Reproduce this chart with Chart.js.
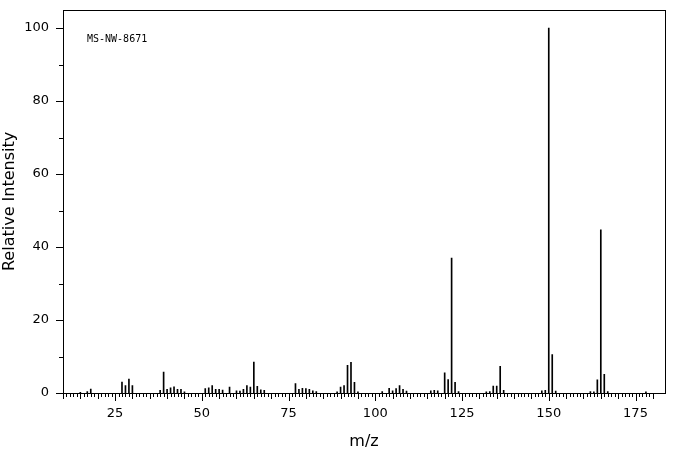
<!DOCTYPE html>
<html><head><meta charset="utf-8">
<script src="https://cdn.jsdelivr.net/npm/chart.js@4"></script>
<style>html,body{margin:0;background:#fff;overflow:hidden}#w{width:676px;height:467px;margin-top:-12px}</style>
</head><body><div id="w"><canvas id="c"></canvas></div>
<script>
const mz = [15,17,18,27,28,29,30,38,39,40,41,42,43,44,45,51,52,53,54,55,56,58,60,61,62,63,64,65,66,67,68,77,78,79,80,81,82,83,89,90,91,92,93,94,95,102,104,105,106,107,108,109,116,117,118,120,121,122,123,124,132,133,134,135,136,137,148,149,150,151,152,162,163,164,165,166,167,178];
const intensity = [0.2,0.4,1.1,3,2,3.8,2,0.7,5.7,1,1.4,1.7,1,1,0.3,1.2,1.4,2,1,1,0.8,1.6,0.6,0.5,1,2,1.6,8.5,1.8,0.9,0.7,2.6,1,1.3,1.2,1,0.6,0.4,0.3,1.6,2,7.6,8.4,2.9,0.3,0.4,1.3,0.6,1.2,2,1,0.5,0.6,0.7,0.6,5.5,3.7,37,2.9,0.4,0.3,0.4,1.9,1.9,7.3,0.7,0.6,0.7,100,10.5,0.5,0.4,0.3,3.6,44.7,5.1,0.4,0.3];
const xTickLabels = [25,50,75,100,125,150,175];
const yTickLabels = [0,20,40,60,80,100];
const title = 'MS-NW-8671';

const tickPlugin = {
  id:'ticks',
  afterDraw(ch){
    const c=ch.ctx, x=ch.scales.x, y=ch.scales.y, a=ch.chartArea;
    c.save(); c.strokeStyle='#000'; c.lineWidth=1;
    c.strokeRect(Math.round(a.left)+0.5, Math.round(a.top)+0.5, Math.round(a.right-a.left), Math.round(a.bottom-a.top));
    c.beginPath();
    for(let m=10;m<=180;m++){
      const px=Math.round(x.getPixelForValue(m))+0.5;
      const L = m%25===0?8:(m%5===0?6:4);
      c.moveTo(px,a.bottom); c.lineTo(px,a.bottom+L);
    }
    for(let v=0;v<=100;v+=10){
      const py=Math.round(y.getPixelForValue(v))+0.5;
      const L = v%20===0?7:4;
      c.moveTo(a.left,py); c.lineTo(a.left-L,py);
    }
    c.stroke();
    c.fillStyle='#000'; c.font='10px "DejaVu Sans Mono"'; c.textBaseline='middle';
    c.fillText(title, a.left+24, a.top+30);
    c.restore();
  }
};

new Chart(document.getElementById('c'),{
  type:'bar',
  data:{datasets:[{data:mz.map((m,i)=>({x:m,y:intensity[i]})),backgroundColor:'#000',barThickness:1,borderWidth:0}]},
  options:{
    responsive:true, maintainAspectRatio:false, animation:false,
    layout:{padding:{top:0,right:11,left:0,bottom:0}},
    plugins:{legend:{display:false},tooltip:{enabled:false}},
    scales:{
      x:{type:'linear',min:10,max:183.5,offset:false,
        grid:{display:false,drawTicks:false},border:{display:false},
        afterBuildTicks(s){s.ticks=xTickLabels.map(v=>({value:v}));},
        afterFit(s){s.height=62;},
        ticks:{padding:13,color:'#000',font:{size:13,family:'DejaVu Sans'},maxRotation:0,autoSkip:false},
        title:{display:true,text:'m/z',color:'#000',font:{size:16,family:'DejaVu Sans'},padding:{top:0,bottom:4}}},
      y:{min:0,max:105,
        grid:{display:false,drawTicks:false},border:{display:false},
        afterBuildTicks(s){s.ticks=yTickLabels.map(v=>({value:v}));},
        afterFit(s){s.width=63;},
        ticks:{padding:14,color:'#000',font:{size:13,family:'DejaVu Sans'}},
        title:{display:true,text:'Relative Intensity',color:'#000',font:{size:16,family:'DejaVu Sans'},padding:{top:0,bottom:2}}}
    }
  },
  plugins:[tickPlugin]
});
</script></body></html>
